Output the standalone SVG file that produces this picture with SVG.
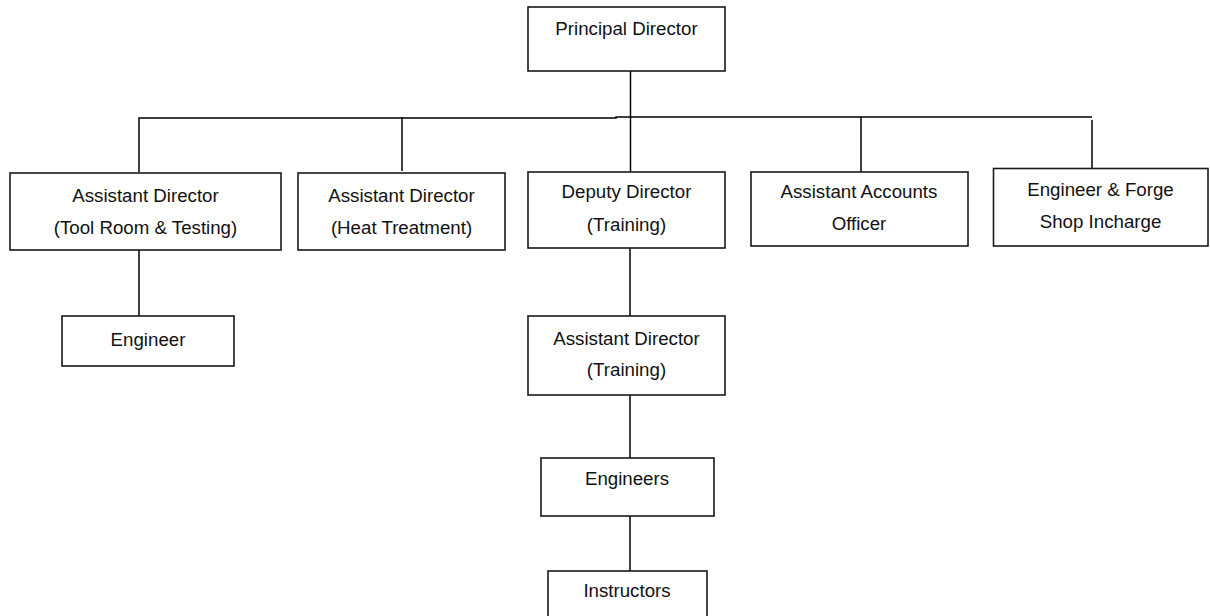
<svg xmlns="http://www.w3.org/2000/svg" width="1210" height="616" viewBox="0 0 1210 616">
<style>
.box{fill:#fff;stroke:#1a1a1a;stroke-width:1.6}
.ln{fill:none;stroke:#000;stroke-width:1.5}
text{font-family:"Liberation Sans",Arial,sans-serif;font-size:18.7px;fill:#111;text-anchor:middle}
</style>
<rect width="1210" height="616" fill="#fff"/>
<g id="connectors">
<path class="ln" d="M630.5 71 V172"/>
<path class="ln" d="M139 172 V118 H616 V117 H1092"/>
<path class="ln" d="M402 117 V171"/>
<path class="ln" d="M861 117 V172"/>
<path class="ln" d="M1092 120 V168"/>
<path class="ln" d="M139 250 V316"/>
<path class="ln" d="M630 248 V321"/>
<path class="ln" d="M630 390 V458"/>
<path class="ln" d="M630 516 V572"/>
</g>
<g id="principal">
<rect class="box" x="528" y="7" width="197" height="64"/>
<text x="626.5" y="35">Principal Director</text>
</g>
<g id="ad-toolroom">
<rect class="box" x="10" y="173" width="271" height="77"/>
<text x="145.5" y="202">Assistant Director</text>
<text x="145.5" y="234">(Tool Room &amp; Testing)</text>
</g>
<g id="ad-heat">
<rect class="box" x="298" y="173" width="207" height="77"/>
<text x="401.5" y="202">Assistant Director</text>
<text x="401.5" y="234">(Heat Treatment)</text>
</g>
<g id="deputy">
<rect class="box" x="528" y="172" width="197" height="76"/>
<text x="626.5" y="198">Deputy Director</text>
<text x="626.5" y="231">(Training)</text>
</g>
<g id="accounts">
<rect class="box" x="751" y="172" width="217" height="74"/>
<text x="859" y="198">Assistant Accounts</text>
<text x="859" y="230">Officer</text>
</g>
<g id="forge">
<rect class="box" x="993.5" y="168.5" width="214.5" height="77.5"/>
<text x="1100.5" y="196">Engineer &amp; Forge</text>
<text x="1100.5" y="228">Shop Incharge</text>
</g>
<g id="engineer">
<rect class="box" x="62" y="316" width="172" height="50"/>
<text x="148" y="346">Engineer</text>
</g>
<g id="ad-training">
<rect class="box" x="528" y="316" width="197" height="79"/>
<text x="626.5" y="345">Assistant Director</text>
<text x="626.5" y="376">(Training)</text>
</g>
<g id="engineers">
<rect class="box" x="541" y="458" width="173" height="58"/>
<text x="627" y="485">Engineers</text>
</g>
<g id="instructors">
<rect class="box" x="548" y="571" width="159" height="50"/>
<text x="627" y="597">Instructors</text>
</g>
</svg>
